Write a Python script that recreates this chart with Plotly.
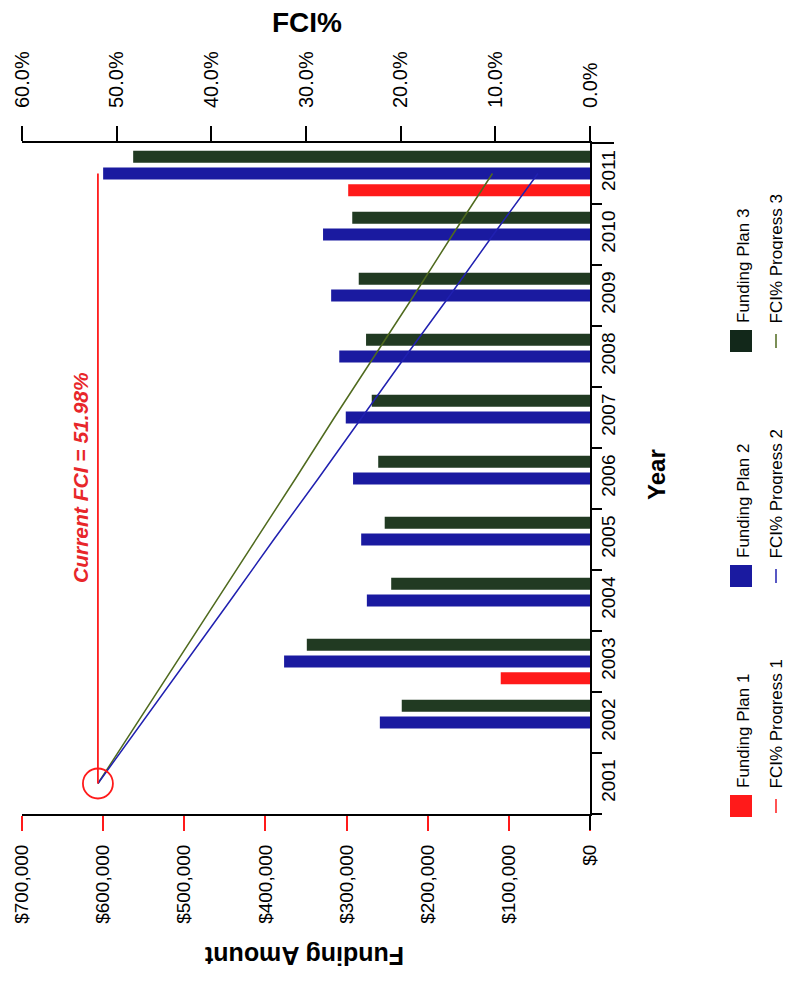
import plotly.graph_objects as go

years = ["2001", "2002", "2003", "2004", "2005", "2006", "2007", "2008", "2009", "2010", "2011"]
plan1 = [0, 0, 110000, 0, 0, 0, 0, 0, 0, 0, 298000]
plan2 = [0, 259000, 377000, 275000, 282000, 292000, 301000, 309000, 319000, 329000, 600000]
plan3 = [0, 232000, 349000, 245000, 253000, 261000, 269000, 276000, 285000, 293000, 563000]
fci1 = [51.98, 51.98, 51.98, 51.98, 51.98, 51.98, 51.98, 51.98, 51.98, 51.98, 51.98]
fci2 = [51.98, 47.3, 42.7, 38.0, 33.4, 28.7, 24.1, 19.5, 14.8, 10.2, 5.5]
fci3 = [51.98, 47.8, 43.6, 39.5, 35.3, 31.1, 27.0, 22.8, 18.6, 14.5, 10.3]
money_ticks = [0, 100000, 200000, 300000, 400000, 500000, 600000, 700000]
money_labels = ["$0", "$100,000", "$200,000", "$300,000", "$400,000", "$500,000", "$600,000", "$700,000"]
pct_ticks = [0, 10, 20, 30, 40, 50, 60]
pct_labels = ["0.0%", "10.0%", "20.0%", "30.0%", "40.0%", "50.0%", "60.0%"]
current_fci = 51.98

RED = "#FF1A1A"
BLUE = "#1A1AA0"
GREEN = "#213A22"
OLIVE = "#4F6A1E"
FONT = "Arial, Liberation Sans, sans-serif"

# the page adds an 8px body margin; work in window pixels and shift
OFF = 8
W, H = 791 - OFF, 981 - OFF
L, R, T, B = 22, 590, 143, 814  # plot area in window pixels
def px(x):
    return (x - L) / (R - L)
def py(y):
    return (B - y) / (B - T)

fig = go.Figure()
fig.add_trace(go.Bar(y=years, x=plan1, orientation="h", name="Funding Plan 1",
                     marker=dict(color=RED, line=dict(width=0))))
fig.add_trace(go.Bar(y=years, x=plan2, orientation="h", name="Funding Plan 2",
                     marker=dict(color=BLUE, line=dict(width=0))))
fig.add_trace(go.Bar(y=years, x=plan3, orientation="h", name="Funding Plan 3",
                     marker=dict(color=GREEN, line=dict(width=0))))

fig.add_trace(go.Scatter(y=years, x=fci3, xaxis="x2", mode="lines", name="FCI% Progress 3",
                         line=dict(color=OLIVE, width=1.5)))
fig.add_trace(go.Scatter(y=years, x=fci2, xaxis="x2", mode="lines", name="FCI% Progress 2",
                         line=dict(color="#2020B0", width=1.5)))
fig.add_trace(go.Scatter(y=years, x=fci1, xaxis="x2", mode="lines", name="FCI% Progress 1",
                         line=dict(color=RED, width=1.8)))
fig.add_trace(go.Scatter(y=[years[0]], x=[current_fci], xaxis="x2", mode="markers",
                         marker=dict(symbol="circle-open", size=30, color=RED, line=dict(width=1.8)),
                         showlegend=False))

shapes = []
annotations = []

# axis extension on the top-right corner and black $0 tick
shapes.append(dict(type="line", xref="paper", yref="paper", x0=px(590), x1=px(614), y0=py(143), y1=py(143),
                   line=dict(color="black", width=2)))
shapes.append(dict(type="line", xref="paper", yref="paper", x0=px(590), x1=px(590), y0=py(814), y1=py(830),
                   line=dict(color="black", width=2)))

# manual rotated legend
legend_rows = [
    (806, "Funding Plan 1", RED, "FCI% Progress 1", RED, 790),
    (576, "Funding Plan 2", BLUE, "FCI% Progress 2", "#2020B0", 560),
    (341, "Funding Plan 3", "#12281A", "FCI% Progress 3", OLIVE, 325),
]
for yc, t1, c1, t2, c2, ytxt in legend_rows:
    shapes.append(dict(type="rect", xref="paper", yref="paper",
                       x0=px(730), x1=px(752), y0=py(yc + 11), y1=py(yc - 11),
                       fillcolor=c1, line=dict(width=0)))
    shapes.append(dict(type="line", xref="paper", yref="paper",
                       x0=px(776), x1=px(776), y0=py(yc + 7), y1=py(yc - 7),
                       line=dict(color=c2, width=1.5)))
    annotations.append(dict(text=t1, xref="paper", yref="paper", x=px(743), y=py(ytxt),
                            xanchor="center", yanchor="bottom", textangle=-90, showarrow=False,
                            font=dict(family=FONT, size=17, color="black")))
    annotations.append(dict(text=t2, xref="paper", yref="paper", x=px(776), y=py(ytxt),
                            xanchor="center", yanchor="bottom", textangle=-90, showarrow=False,
                            font=dict(family=FONT, size=17, color="black")))

annotations.append(dict(text="<b>FCI%</b>", xref="paper", yref="paper", x=px(307), y=py(22),
                        xanchor="center", yanchor="middle", showarrow=False,
                        font=dict(family=FONT, size=28, color="black")))
annotations.append(dict(text="<b>Year</b>", xref="paper", yref="paper", x=px(656), y=py(475),
                        xanchor="center", yanchor="middle", textangle=-90, showarrow=False,
                        font=dict(family=FONT, size=24, color="black")))
annotations.append(dict(text="<b>Funding Amount</b>", xref="paper", yref="paper", x=px(304), y=py(956),
                        xanchor="center", yanchor="middle", textangle=180, showarrow=False,
                        font=dict(family=FONT, size=25, color="black")))
annotations.append(dict(text="<b><i>Current FCI = 51.98%</i></b>", xref="paper", yref="paper",
                        x=px(80), y=py(478), xanchor="center", yanchor="middle", textangle=-90,
                        showarrow=False, font=dict(family=FONT, size=21, color="#E8262A")))

fig.update_layout(
    width=W, height=H,
    template="none",
    paper_bgcolor="white", plot_bgcolor="white",
    margin=dict(l=L - OFF, r=W - (R - OFF), t=T - OFF, b=H - (B - OFF), autoexpand=False),
    barmode="group", bargap=0.18, bargroupgap=0.28,
    showlegend=False,
    font=dict(family=FONT, size=19, color="black"),
    xaxis=dict(range=[700000, 0], tickvals=money_ticks, ticktext=money_labels, tickangle=-90,
               ticks="outside", ticklen=15, tickwidth=2, tickcolor=RED, ticklabelstandoff=6,
               showline=True, linecolor="black", linewidth=2, showgrid=False, zeroline=False,
               tickfont=dict(family=FONT, size=19, color="black"), automargin=False),
    xaxis2=dict(range=[60, 0], overlaying="x", side="top", tickvals=pct_ticks, ticktext=pct_labels,
                tickangle=-90, ticks="outside", ticklen=15, tickwidth=2, tickcolor="black",
                ticklabelstandoff=14,
                showline=True, linecolor="black", linewidth=2, showgrid=False, zeroline=False,
                tickfont=dict(family=FONT, size=20, color="black"), automargin=False),
    yaxis=dict(type="category", categoryorder="array", categoryarray=years, range=[-0.5, 10.5],
               side="right", tickangle=-90, ticks="outside", tickson="boundaries", ticklen=10,
               tickwidth=2, tickcolor="black", showline=True, linecolor="black", linewidth=2,
               showgrid=False, zeroline=False, tickfont=dict(family=FONT, size=19, color="black"),
               automargin=False),
    shapes=shapes,
    annotations=annotations,
)

fig.write_html("out.html")
